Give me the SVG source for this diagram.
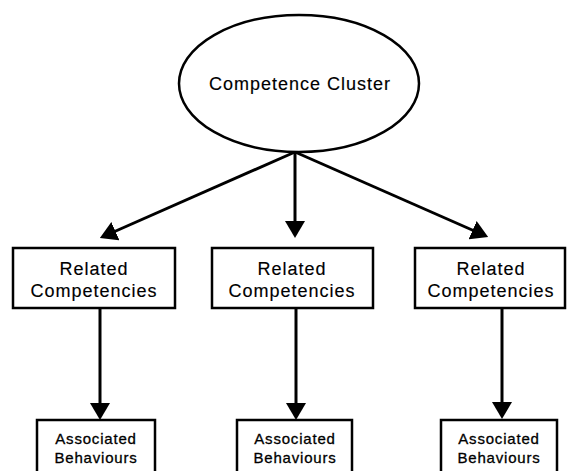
<svg xmlns="http://www.w3.org/2000/svg" width="567" height="471" viewBox="0 0 567 471">
<style>
.shape{fill:#fff;stroke:#000;stroke-width:2.5}
.lbl{font-family:"Liberation Sans",Arial,sans-serif;fill:#000;stroke:#000;stroke-width:0.15;text-anchor:middle}
.big{font-size:18px;letter-spacing:1px}
.small{font-size:15px;letter-spacing:0.8px;stroke-width:0.3}
.conn{stroke:#000;stroke-width:3;fill:none}
</style>
<defs>
<marker id="arr" viewBox="0 0 17 20" refX="7" refY="10" markerWidth="17" markerHeight="20" markerUnits="userSpaceOnUse" orient="auto">
<path d="M0,0 L17,10 L0,20 z" fill="#000"/>
</marker>
</defs>
<rect width="567" height="471" fill="#fff"/>
<g id="connectors">
<line class="conn" x1="295" y1="152" x2="109" y2="234" marker-end="url(#arr)"/>
<line class="conn" x1="295" y1="152" x2="295" y2="228" marker-end="url(#arr)"/>
<line class="conn" x1="295" y1="152" x2="479" y2="233" marker-end="url(#arr)"/>
<line class="conn" x1="100" y1="308" x2="100" y2="410" marker-end="url(#arr)"/>
<line class="conn" x1="296" y1="308" x2="296" y2="410" marker-end="url(#arr)"/>
<line class="conn" x1="502" y1="308" x2="502" y2="409" marker-end="url(#arr)"/>
</g>
<g id="cluster">
<ellipse class="shape" cx="299" cy="83.5" rx="120" ry="68.5"/>
<text class="lbl big" x="300" y="90">Competence Cluster</text>
</g>
<g id="related1">
<rect class="shape" x="13" y="248" width="162" height="60"/>
<text class="lbl big" x="94" y="275">Related</text>
<text class="lbl big" x="94" y="297">Competencies</text>
</g>
<g id="related2">
<rect class="shape" x="212" y="248" width="161" height="60"/>
<text class="lbl big" x="292" y="275">Related</text>
<text class="lbl big" x="292" y="297">Competencies</text>
</g>
<g id="related3">
<rect class="shape" x="415" y="248" width="150" height="60"/>
<text class="lbl big" x="491" y="275">Related</text>
<text class="lbl big" x="491" y="297">Competencies</text>
</g>
<g id="behaviours1">
<rect class="shape" x="37" y="420" width="118" height="70"/>
<text class="lbl small" x="96" y="444">Associated</text>
<text class="lbl small" x="96" y="463">Behaviours</text>
</g>
<g id="behaviours2">
<rect class="shape" x="237" y="420" width="115" height="70"/>
<text class="lbl small" x="295" y="444">Associated</text>
<text class="lbl small" x="295" y="463">Behaviours</text>
</g>
<g id="behaviours3">
<rect class="shape" x="441" y="420" width="116" height="70"/>
<text class="lbl small" x="499" y="444">Associated</text>
<text class="lbl small" x="499" y="463">Behaviours</text>
</g>
</svg>
